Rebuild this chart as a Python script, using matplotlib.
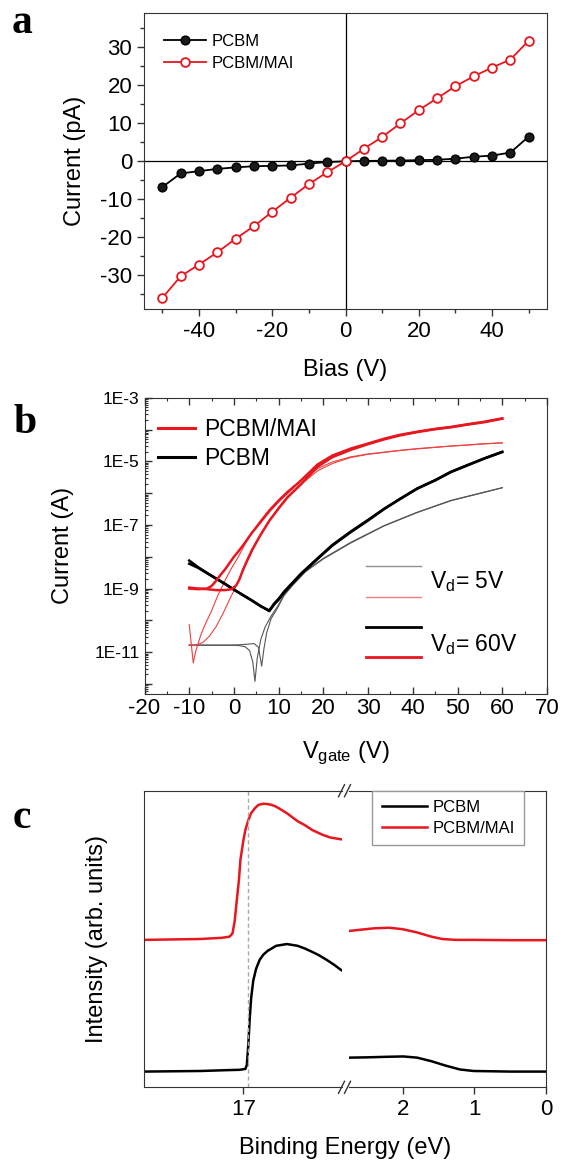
import numpy as np
import matplotlib
matplotlib.use("Agg")
import matplotlib.pyplot as plt
from matplotlib.ticker import MultipleLocator, FixedLocator, LogLocator, FuncFormatter, NullFormatter
from matplotlib.lines import Line2D

plt.rcParams['font.family'] = ['Liberation Sans', 'DejaVu Sans']
plt.rcParams['mathtext.fontset'] = 'custom'
plt.rcParams['mathtext.rm'] = 'Liberation Sans'
plt.rcParams['mathtext.it'] = 'Liberation Sans'
plt.rcParams['axes.unicode_minus'] = False

# ---------------- panel a data ----------------
bias = [-50, -45, -40, -35, -30, -25, -20, -15, -10, -5, 0, 5, 10, 15, 20, 25, 30, 35, 40, 45, 50]
i_pcbm = [-6.8, -3.2, -2.6, -2.0, -1.6, -1.3, -1.2, -1.1, -0.6, -0.2, 0.0, 0.1, 0.15, 0.2, 0.3, 0.4, 0.7, 1.2, 1.5, 2.3, 6.5]
i_mai = [-36.0, -30.3, -27.2, -24.0, -20.4, -17.1, -13.3, -9.6, -6.0, -2.9, 0.0, 3.3, 6.4, 10.0, 13.5, 16.6, 19.8, 22.4, 24.7, 26.8, 31.8]

# ---------------- panel b data (log10 of current in A) ----------------
pcbm60_v = [-10, -8, -6, -4, -2, 0, 2, 4, 6, 7.9, 9, 10, 11.2, 12, 15, 18.7, 22, 26.1, 30, 33.6, 37, 41, 45, 48.5, 52, 55.9, 60]
pcbm60_fwd = [-8.12, -8.33, -8.51, -8.68, -8.85, -9.03, -9.2, -9.37, -9.55, -9.71, -9.5, -9.35, -9.13, -9.0, -8.55, -8.07, -7.65, -7.23, -6.86, -6.5, -6.2, -5.86, -5.6, -5.34, -5.14, -4.92, -4.71]
pcbm60_rev = [-8.22, -8.35, -8.52, -8.69, -8.86, -9.04, -9.21, -9.38, -9.56, -9.69, -9.47, -9.32, -9.1, -8.98, -8.53, -8.05, -7.63, -7.21, -6.84, -6.49, -6.19, -5.85, -5.59, -5.33, -5.13, -4.91, -4.70]

pcbm5_fwd_v = [-10, -6, -2, 1, 2.5, 3.5, 4.2, 4.7, 5.2, 6, 7, 8.3, 9.8, 11.2, 13, 16, 20, 26.1, 33.6, 41, 48.5, 55.9, 60]
pcbm5_fwd = [-10.78, -10.78, -10.78, -10.79, -10.83, -10.95, -11.3, -11.92, -11.2, -10.6, -10.2, -9.87, -9.55, -9.2, -8.9, -8.45, -8.05, -7.55, -7.02, -6.6, -6.23, -5.97, -5.83]
pcbm5_rev_v = [-10, -6, -2, 1, 3, 4.5, 5.5, 6.2, 6.7, 7.3, 8.3, 9.8, 11.2, 13, 16, 20, 26.1, 33.6, 41, 48.5, 55.9, 60]
pcbm5_rev = [-10.78, -10.78, -10.78, -10.77, -10.75, -10.73, -10.85, -11.44, -10.9, -10.4, -9.95, -9.6, -9.22, -8.92, -8.47, -8.07, -7.57, -7.03, -6.61, -6.24, -5.98, -5.83]

mai60_a_v = [-10, -8, -6, -5, -4, -3, -2, -1, 0, 1, 2, 3, 4, 6, 8, 10, 12, 15, 18.7, 22, 26.1, 30, 33.6, 37, 41, 45, 48.5, 52, 55.9, 60]
mai60_a = [-9.0, -9.02, -9.0, -8.92, -8.76, -8.57, -8.4, -8.2, -8.0, -7.83, -7.65, -7.45, -7.25, -6.9, -6.55, -6.25, -5.98, -5.6, -5.1, -4.82, -4.6, -4.44, -4.29, -4.17, -4.07, -3.98, -3.92, -3.84, -3.76, -3.65]
mai60_b_v = [-10, -8, -6, -4, -2, -0.5, 0.5, 1.2, 2, 3, 4, 5, 6, 8, 10, 12, 15, 18.7, 22, 26.1, 30, 33.6, 37, 41, 45, 48.5, 52, 55.9, 60]
mai60_b = [-8.97, -9.0, -9.02, -9.05, -9.05, -9.02, -8.9, -8.72, -8.42, -8.1, -7.8, -7.55, -7.3, -6.85, -6.48, -6.13, -5.72, -5.17, -4.87, -4.64, -4.46, -4.31, -4.19, -4.08, -3.99, -3.93, -3.85, -3.77, -3.66]

mai5_a_v = [-10, -9.5, -9.1, -8.5, -7.5, -6.6, -5, -3.65, -2, -0.67, 1, 2.3, 4, 6, 8, 10, 12, 15, 18.7, 22, 26.1, 30, 33.6, 37, 41, 45, 48.5, 52, 55.9, 60]
mai5_a = [-10.13, -10.8, -11.34, -10.95, -10.5, -10.18, -9.7, -9.23, -8.75, -8.39, -8.0, -7.65, -7.25, -6.85, -6.5, -6.2, -5.93, -5.6, -5.23, -5.02, -4.86, -4.77, -4.71, -4.66, -4.6, -4.56, -4.52, -4.49, -4.45, -4.42]
mai5_b_v = [-10, -8.5, -7, -5.5, -4, -2.5, -1, 0.24, 1.5, 3, 4.5, 6, 8, 10, 12, 15, 18.7, 22, 26.1, 30, 33.6, 37, 41, 45, 48.5, 52, 55.9, 60]
mai5_b = [-10.78, -10.78, -10.7, -10.5, -10.2, -9.8, -9.35, -9.0, -8.6, -8.15, -7.7, -7.3, -6.85, -6.45, -6.1, -5.72, -5.3, -5.07, -4.88, -4.78, -4.72, -4.66, -4.61, -4.56, -4.52, -4.49, -4.45, -4.42]

# ---------------- panel c data ----------------
red_hi_e = [18.39, 17.60, 17.30, 17.19, 17.15, 17.12, 17.09, 17.06, 17.04, 17.00, 16.97, 16.93, 16.89, 16.84, 16.79, 16.72, 16.66, 16.60, 16.54, 16.47, 16.39, 16.30, 16.24, 16.14, 16.04, 15.89, 15.78, 15.63]
red_hi_i = [0.497, 0.500, 0.504, 0.508, 0.519, 0.56, 0.631, 0.70, 0.766, 0.83, 0.868, 0.90, 0.924, 0.94, 0.952, 0.956, 0.955, 0.952, 0.946, 0.936, 0.924, 0.908, 0.897, 0.884, 0.868, 0.851, 0.842, 0.836]
blk_hi_e = [18.39, 17.60, 17.20, 17.05, 16.97, 16.95, 16.93, 16.91, 16.89, 16.86, 16.82, 16.77, 16.72, 16.66, 16.54, 16.39, 16.24, 16.14, 16.04, 15.94, 15.83, 15.73, 15.63]
blk_hi_i = [0.053, 0.055, 0.058, 0.059, 0.062, 0.075, 0.14, 0.23, 0.30, 0.36, 0.40, 0.43, 0.447, 0.46, 0.477, 0.483, 0.477, 0.468, 0.457, 0.445, 0.429, 0.413, 0.395]
red_lo_e = [2.75, 2.6, 2.4, 2.19, 2.0, 1.8, 1.6, 1.45, 1.26, 1.0, 0.5, 0.0]
red_lo_i = [0.527, 0.531, 0.536, 0.538, 0.533, 0.522, 0.508, 0.500, 0.497, 0.497, 0.496, 0.496]
blk_lo_e = [2.75, 2.5, 2.2, 1.99, 1.8, 1.6, 1.4, 1.2, 1.01, 0.5, 0.0]
blk_lo_i = [0.100, 0.101, 0.103, 0.104, 0.100, 0.088, 0.073, 0.060, 0.055, 0.053, 0.053]
cutoff_line = 16.93

RED = '#e8161e'
W, H = 564, 1164
fig = plt.figure(figsize=(W / 100, H / 100), dpi=100)


def rect(l, r, t, b):
    return [l / W, 1 - b / H, (r - l) / W, (b - t) / H]


SP = '#333333'

# ================= panel a =================
axA = fig.add_axes(rect(144, 547, 13.3, 309.3))
axA.axhline(0, color='black', lw=0.9, zorder=1)
axA.axvline(0, color='black', lw=0.9, zorder=1)
axA.plot(bias, i_pcbm, color='black', lw=1.3, marker='o', ms=6.3, mfc='#1a1a1a', mec='black',
         label='PCBM', zorder=3)
axA.plot(bias, i_mai, color=RED, lw=1.3, marker='o', ms=6.3, mfc='white', mec=RED, mew=1.3,
         label='PCBM/MAI', zorder=3)
axA.set_xlim(-55, 55)
axA.set_ylim(-39, 39)
axA.xaxis.set_major_locator(FixedLocator([-40, -20, 0, 20, 40]))
axA.xaxis.set_minor_locator(MultipleLocator(10))
axA.yaxis.set_major_locator(MultipleLocator(10))
axA.yaxis.set_minor_locator(MultipleLocator(5))
axA.tick_params(which='both', direction='out', top=False, right=False, labelsize=16, color=SP)
axA.tick_params(which='major', length=5, width=1)
axA.tick_params(which='minor', length=3, width=1)
for s in axA.spines.values():
    s.set_color(SP)
axA.set_xlabel('Bias (V)', fontsize=17)
axA.set_ylabel('Current (pA)', fontsize=17)
axA.xaxis.set_label_coords(0.5, -0.205)
axA.xaxis.label.set_va('center')
axA.yaxis.set_label_coords(-0.171, 0.5)
axA.yaxis.label.set_va('center')
axA.legend(loc='upper left', bbox_to_anchor=(0.05, 0.93), frameon=False, fontsize=12,
           handlelength=2.5, handletextpad=0.35, labelspacing=0.4, borderpad=0, borderaxespad=0)

# ================= panel b =================
axB = fig.add_axes(rect(144.5, 547, 397.7, 693.5))
axB.set_yscale('log')
lg = lambda a: 10.0 ** np.asarray(a)
axB.plot(pcbm5_fwd_v, lg(pcbm5_fwd), color='#555555', lw=0.8)
axB.plot(pcbm5_rev_v, lg(pcbm5_rev), color='#555555', lw=0.8)
axB.plot(mai5_a_v, lg(mai5_a), color='#ee4040', lw=0.8)
axB.plot(mai5_b_v, lg(mai5_b), color='#ee4040', lw=0.8)
axB.plot(pcbm60_v, lg(pcbm60_fwd), color='black', lw=1.8)
axB.plot(pcbm60_v, lg(pcbm60_rev), color='black', lw=1.8)
axB.plot(mai60_a_v, lg(mai60_a), color=RED, lw=1.8)
axB.plot(mai60_b_v, lg(mai60_b), color=RED, lw=1.8)
axB.set_xlim(-20, 70)
axB.set_ylim(10 ** -12.3, 1e-3)
axB.xaxis.set_major_locator(MultipleLocator(10))
axB.xaxis.set_minor_locator(MultipleLocator(5))
axB.yaxis.set_major_locator(FixedLocator([1e-12, 1e-11, 1e-10, 1e-9, 1e-8, 1e-7, 1e-6, 1e-5, 1e-4, 1e-3]))
axB.yaxis.set_minor_locator(LogLocator(base=10, subs=np.arange(2, 10), numticks=30))
axB.yaxis.set_minor_formatter(NullFormatter())


def fmt_log(v, p):
    e = int(round(np.log10(v)))
    return f'1E{e}' if (e % 2 and -11 <= e <= -3) else ''


axB.yaxis.set_major_formatter(FuncFormatter(fmt_log))
axB.tick_params(which='both', direction='in', top=True, right=False, color=SP)
axB.tick_params(which='major', length=5, width=1)
axB.tick_params(which='minor', length=2.5, width=0.8)
axB.tick_params(axis='x', labelsize=16)
axB.tick_params(axis='y', labelsize=12.5)
for s in axB.spines.values():
    s.set_color(SP)
axB.set_xlabel(r'V$_{\mathrm{gate}}$ (V)', fontsize=17)
axB.set_ylabel('Current (A)', fontsize=17)
axB.xaxis.set_label_coords(0.5, -0.201)
axB.xaxis.label.set_va('center')
axB.yaxis.set_label_coords(-0.203, 0.5)
axB.yaxis.label.set_va('center')
h1 = Line2D([], [], color=RED, lw=2.2)
h2 = Line2D([], [], color='black', lw=2.2)
axB.legend([h1, h2], ['PCBM/MAI', 'PCBM'], loc='upper left', bbox_to_anchor=(0.034, 0.93),
           frameon=False, fontsize=16.5, handlelength=1.6, handletextpad=0.4, labelspacing=0.26,
           borderpad=0, borderaxespad=0)
# Vd key
ax_x = lambda X: (X - 144.5) / 402.5
ax_y = lambda Y: (693.5 - Y) / 295.8
for Y, c, lw in [(565.7, '#909090', 1.0), (597.3, '#f08080', 1.0), (626.7, 'black', 2.0), (656.7, RED, 2.0)]:
    axB.add_line(Line2D([ax_x(366), ax_x(421)], [ax_y(Y), ax_y(Y)], color=c, lw=lw,
                        transform=axB.transAxes))
axB.text(ax_x(430), ax_y(582), r'V$_{\mathrm{d}}$= 5V', transform=axB.transAxes, fontsize=16.5,
         va='center', ha='left')
axB.text(ax_x(430), ax_y(645), r'V$_{\mathrm{d}}$= 60V', transform=axB.transAxes, fontsize=16.5,
         va='center', ha='left')

# ================= panel c =================
axC1 = fig.add_axes(rect(144, 342, 790.7, 1087.3))
axC2 = fig.add_axes(rect(349, 546, 790.7, 1087.3))
axC1.plot(blk_hi_e, blk_hi_i, color='black', lw=1.8)
axC1.plot(red_hi_e, red_hi_i, color=RED, lw=1.8)
axC2.plot(blk_lo_e, blk_lo_i, color='black', lw=1.8, label='PCBM')
axC2.plot(red_lo_e, red_lo_i, color=RED, lw=1.8, label='PCBM/MAI')
axC1.axvline(cutoff_line, color='#aaaaaa', ls='--', lw=1.0, dashes=(3, 2))
axC1.set_xlim(18.387, 15.62)
axC2.set_xlim(2.75, 0)
for ax in (axC1, axC2):
    ax.set_ylim(0, 1)
    ax.set_yticks([])
    for s in ax.spines.values():
        s.set_color(SP)
    ax.tick_params(which='both', direction='out', labelsize=16, color=SP, length=5, width=1)
axC1.spines['right'].set_visible(False)
axC2.spines['left'].set_visible(False)
axC1.set_xticks([17])
axC2.set_xticks([2, 1, 0])
axC1.set_ylabel('Intensity (arb. units)', fontsize=17)
axC1.yaxis.set_label_coords(-0.238, 0.5)
axC1.yaxis.label.set_va('center')
axC2.legend(loc='upper right', bbox_to_anchor=(0.888, 1.0), fontsize=12, handlelength=2.7,
            handletextpad=0.35, labelspacing=0.35, borderpad=0.55, borderaxespad=0,
            fancybox=False, edgecolor='#999999', framealpha=1)
fig.text(345 / W, 1 - 1148 / H, 'Binding Energy (eV)', fontsize=17, ha='center', va='center')
# break marks
for Yc in (790.7, 1087.3):
    for X0 in (338.5, 344.5):
        fig.add_artist(Line2D([X0 / W, (X0 + 6) / W], [1 - (Yc + 6) / H, 1 - (Yc - 6) / H],
                              color=SP, lw=1.0))

# panel letters
for txt, X, Y in [('a', 12, 33), ('b', 13, 433), ('c', 13, 828)]:
    fig.text(X / W, 1 - Y / H, txt, fontsize=30, fontweight='bold', family='Liberation Serif',
             va='baseline', ha='left')

fig.savefig('out.png', dpi=100)
